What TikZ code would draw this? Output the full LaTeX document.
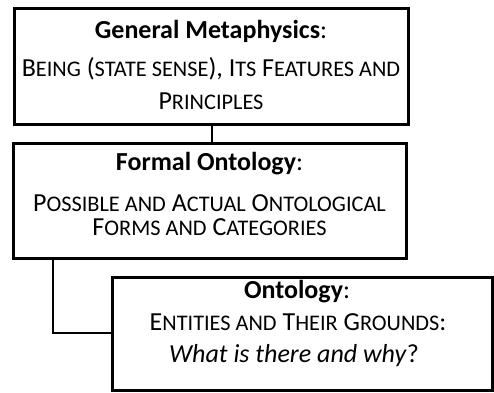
\documentclass[tikz,border=0pt]{standalone}
\usepackage{fontspec}
\setmainfont{Carlito}
\newcommand\smc[1]{{\fontsize{22.3}{24}\selectfont\MakeUppercase{#1}}}
\begin{document}
\begin{tikzpicture}[x=1pt,y=-1pt,
  box/.style={draw,line width=3pt,rectangle,inner sep=0pt},
  conn/.style={draw,line width=2pt},
  txt/.style={anchor=base,inner sep=0pt,font=\fontsize{26}{30}\selectfont}]
\useasboundingbox (0,0) rectangle (494,392);
% boxes
\node[box,minimum width=394pt,minimum height=116pt] (b1) at (211,66) {};
\node[box,minimum width=393pt,minimum height=115pt] (b2) at (209.5,200.5) {};
\node[box,minimum width=380pt,minimum height=113pt] (b3) at (302,333.5) {};
% texts box 1
\node[txt] (t11) at (211,38) {\textbf{General Metaphysics}:};
\node[txt] (t12) at (211,76) {B\smc{eing} (\smc{state sense}), I\smc{ts} F\smc{eatures and}};
\node[txt] (t13) at (211,109) {P\smc{rinciples}};
% texts box 2
\node[txt] (t21) at (209.5,170) {\textbf{Formal Ontology}:};
\node[txt,text depth=0pt] (t22) at (209.5,211) {P\smc{ossible and} A\smc{ctual} O\smc{ntological}};
\node[txt,text height=17pt] (t23) at (209.5,235) {F\smc{orms and} C\smc{ategories}};
% texts box 3
\node[txt] (t31) at (297,298) {\textbf{Ontology}:};
\node[txt] (t32) at (298,330) {E\smc{ntities and} T\smc{heir} G\smc{rounds}:};
\node[txt] (t33) at (294,362) {\textit{What is there and why}?};
% connectors
\draw[conn] (b1.south -| 212,0) -- (b2.north -| 212,0);
\coordinate (k) at (53,333);
\draw[conn] (b2.south -| k) -- (k) -- (b3.west |- k);
\end{tikzpicture}
\end{document}
